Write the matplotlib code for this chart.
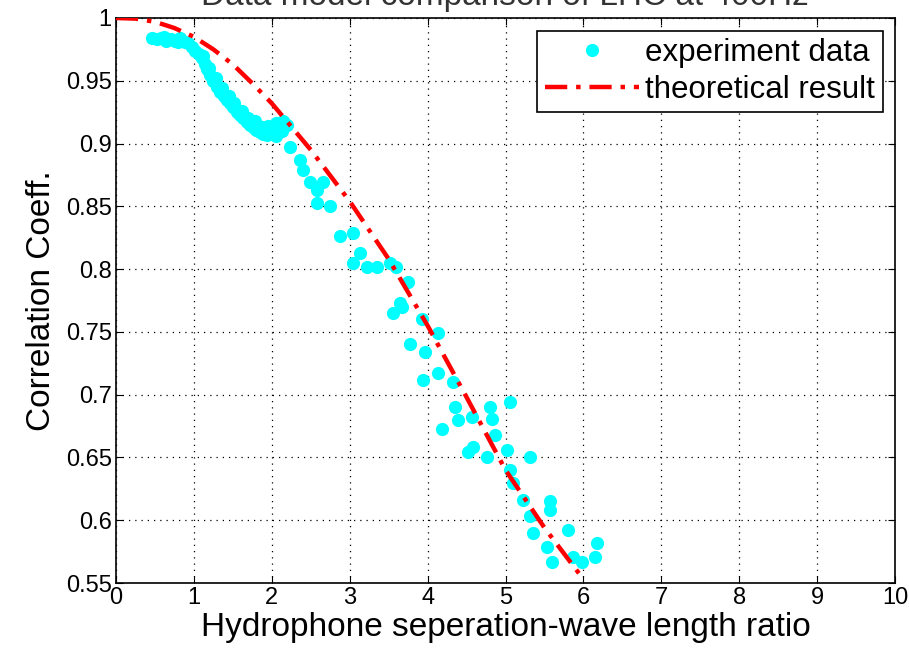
import numpy as np
import matplotlib.pyplot as plt

plt.rcParams['font.family'] = ['Liberation Sans', 'DejaVu Sans']

# theoretical curve
theory_x = [0, 0.25, 0.5, 0.75, 1.0, 1.25, 1.5, 1.75, 2.0, 2.5, 3.0, 3.5, 4.0, 4.5, 5.0, 5.5, 6.0]
theory_y = [1.0, 0.9995, 0.997, 0.992, 0.985, 0.975, 0.963, 0.948, 0.932, 0.895, 0.854, 0.808, 0.755, 0.698, 0.640, 0.594, 0.553]

# experiment data
exp_x = [0.46, 0.52, 0.58, 0.64, 0.70, 0.76, 0.82, 0.88, 0.93, 0.98,
         1.02, 1.06, 1.10, 1.14, 1.17, 1.21, 1.25, 1.30, 1.34, 1.38,
         1.42, 1.46, 1.50, 1.55, 1.59, 1.63, 1.68, 1.72, 1.76, 1.80,
         1.85, 1.89, 1.94, 1.98, 2.02, 2.06, 2.10, 2.15, 2.20, 1.12,
         1.28, 1.45, 1.62, 1.78, 1.95, 2.05, 2.13, 1.20, 1.36, 1.52,
         1.70, 1.88, 0.62, 0.80,
         2.23, 2.36, 2.40, 2.49, 2.58, 2.66, 2.58, 2.75, 2.88, 3.04,
         3.13, 3.22, 3.04, 3.35, 3.52, 3.60, 3.75, 3.56, 3.65, 3.67,
         3.93, 3.77, 3.97, 4.13, 3.94, 4.13, 4.33, 4.18, 4.35, 4.39,
         4.57, 4.58, 4.52, 4.80, 4.83, 4.87, 5.06, 4.76, 5.02, 5.31,
         5.10, 5.06, 5.22, 5.31, 5.57, 5.57, 5.35, 5.53, 5.60, 5.80,
         5.87, 5.98, 6.17, 6.15]
exp_y = [0.984, 0.983, 0.984, 0.982, 0.983, 0.982, 0.984, 0.981, 0.980, 0.977,
         0.974, 0.971, 0.968, 0.963, 0.959, 0.955, 0.950, 0.945, 0.941, 0.938,
         0.935, 0.932, 0.929, 0.925, 0.923, 0.920, 0.917, 0.915, 0.913, 0.911,
         0.909, 0.908, 0.907, 0.910, 0.913, 0.916, 0.913, 0.918, 0.915, 0.970,
         0.952, 0.938, 0.926, 0.918, 0.914, 0.906, 0.910, 0.960, 0.944, 0.932,
         0.920, 0.913, 0.985, 0.981,
         0.897, 0.887, 0.879, 0.869, 0.863, 0.869, 0.853, 0.850, 0.826, 0.829,
         0.813, 0.802, 0.805, 0.802, 0.805, 0.802, 0.790, 0.765, 0.773, 0.770,
         0.760, 0.740, 0.734, 0.749, 0.712, 0.717, 0.710, 0.673, 0.690, 0.680,
         0.682, 0.658, 0.654, 0.690, 0.681, 0.668, 0.694, 0.650, 0.656, 0.650,
         0.630, 0.640, 0.616, 0.603, 0.615, 0.608, 0.590, 0.579, 0.567, 0.592,
         0.571, 0.567, 0.582, 0.571]

yticks = [0.55, 0.6, 0.65, 0.7, 0.75, 0.8, 0.85, 0.9, 0.95, 1.0]
ytick_labels = ['0.55', '0.6', '0.65', '0.7', '0.75', '0.8', '0.85', '0.9', '0.95', '1']

fig = plt.figure(figsize=(9.09, 6.54), dpi=100)
ax = fig.add_axes([116/909, 1-583/654, (895-116)/909, (583-18)/654])

ax.plot(exp_x, exp_y, 'o', color='#00ffff', markersize=9.5, markeredgewidth=0,
        label='experiment data', zorder=3)
ax.plot(theory_x, theory_y, color='red', linewidth=3.2, dashes=(5, 2, 1, 2),
        label='theoretical result', zorder=4)

ax.set_xlim(0, 10)
ax.set_ylim(0.55, 1.0)
ax.set_xticks(range(11))
ax.set_yticks(yticks)
ax.set_yticklabels(ytick_labels)
ax.tick_params(direction='in', top=True, right=True, labelsize=17, length=5, pad=3)
ax.grid(True, color='black', linestyle=(0, (1, 4)), linewidth=0.9)
for s in ax.spines.values():
    s.set_linewidth(1.2)

ax.set_xlabel('Hydrophone seperation-wave length ratio', fontsize=24, labelpad=2)
ax.set_ylabel('Correlation Coeff.', fontsize=24, labelpad=6)

leg = ax.legend(loc='upper right', fontsize=22.5, fancybox=False, edgecolor='black',
                framealpha=1, handlelength=3, borderaxespad=0.4, handletextpad=0.2,
                labelspacing=0.2, borderpad=0.25)
leg.get_frame().set_linewidth(1.2)

fig.text(505/909, 1 - 5/654, 'Data model comparison of LHC at 400Hz', fontsize=24,
         ha='center', va='baseline', color='#333333')

fig.savefig('out.png', dpi=100)
